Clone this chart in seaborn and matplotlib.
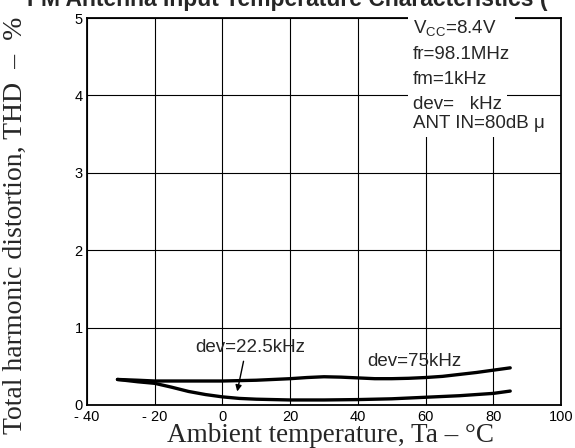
import matplotlib
matplotlib.use("Agg")
import matplotlib.pyplot as plt
import seaborn as sns
import pandas as pd

# ---- data ----
temp_75 = [-31, -25, -20, -10, 0, 10, 20, 25, 30, 35, 40, 45, 50, 55, 60, 65, 70, 75, 80, 85]
thd_75 = [0.33, 0.32, 0.31, 0.31, 0.31, 0.32, 0.34, 0.355, 0.365, 0.36, 0.35, 0.34, 0.34,
          0.345, 0.355, 0.37, 0.395, 0.42, 0.45, 0.48]
temp_225 = [-31, -25, -20, -15, -10, -5, 0, 5, 10, 20, 30, 40, 50, 60, 70, 80, 85]
thd_225 = [0.33, 0.30, 0.28, 0.23, 0.175, 0.135, 0.105, 0.085, 0.075, 0.065, 0.065, 0.07,
           0.08, 0.10, 0.12, 0.15, 0.18]
x_ticks = [-40, -20, 0, 20, 40, 60, 80, 100]
x_tick_labels = ["- 40", "- 20", "0", "20", "40", "60", "80", "100"]
y_ticks = [0, 1, 2, 3, 4, 5]
cond_head = "V$_{\\mathrm{CC}}$=8.4V\nfr=98.1MHz\nfm=1kHz"
cond_dev = "dev=   kHz"
cond_ant = "ANT IN=80dB \u03bc"

sns.set_style("white")
plt.rcParams["font.family"] = ["Liberation Sans", "DejaVu Sans"]
plt.rcParams["mathtext.fontset"] = "custom"
plt.rcParams["mathtext.rm"] = "Liberation Sans"
plt.rcParams["mathtext.it"] = "Liberation Sans"

W, H = 575, 448
fig = plt.figure(figsize=(W / 100, H / 100), dpi=100)
ax = fig.add_axes([87 / W, 1 - 405 / H, 474 / W, 387 / H])

df75 = pd.DataFrame({"t": temp_75, "thd": thd_75})
df225 = pd.DataFrame({"t": temp_225, "thd": thd_225})
sns.lineplot(data=df75, x="t", y="thd", ax=ax, color="black", lw=2.4, zorder=3)
sns.lineplot(data=df225, x="t", y="thd", ax=ax, color="black", lw=2.4, zorder=3)

ax.set_xlim(-40, 100)
ax.set_ylim(0, 5)
ax.set_xticks(x_ticks)
ax.set_xticklabels(x_tick_labels)
ax.set_yticks(y_ticks)
ax.tick_params(axis="both", length=0, labelsize=10.5, colors="black")
ax.tick_params(axis="x", pad=3.5)
ax.tick_params(axis="y", pad=3)
for lbl in ax.get_yticklabels():
    lbl.set_va("center_baseline")
ax.grid(True, color="black", lw=0.8)
ax.set_axisbelow(True)
for s in ax.spines.values():
    s.set_visible(True)
    s.set_color("black")
    s.set_linewidth(1.3)

serif = ["Liberation Serif", "DejaVu Serif"]
ax.set_xlabel("Ambient temperature, Ta \u2013 \u00b0C", family=serif, fontsize=19.5, va="center")
ax.xaxis.set_label_coords(0.513, -0.08)
ax.set_ylabel("Total harmonic distortion, THD  \u2013  %", family=serif, fontsize=20,
              va="center", ha="center")
ax.yaxis.set_label_coords(-0.152, 0.465)

# condition block
box = dict(facecolor="white", edgecolor="none", pad=3.5)
ax.text(56.3, 5.0, cond_head, fontsize=13.5, va="top", ha="left", zorder=5,
        linespacing=1.6, bbox=box)
ax.text(56.3, 3.824, cond_dev, fontsize=13.5, va="baseline", ha="left", zorder=5, bbox=box)
ax.text(56.3, 3.579, cond_ant, fontsize=13.5, va="baseline", ha="left", zorder=5,
        bbox=box, clip_on=False)

# curve labels
ax.text(-8.1, 0.74, "dev=22.5kHz", fontsize=13.5, va="center", ha="left", zorder=5)
ax.text(42.7, 0.56, "dev=75kHz", fontsize=13.5, va="center", ha="left", zorder=5)
ax.annotate("", xy=(4.2, 0.14), xytext=(6.4, 0.60),
            arrowprops=dict(arrowstyle="-|>", color="black", lw=1.0, mutation_scale=9))

fig.text(27 / W, 1 - 6 / H, "FM Antenna Input Temperature Characteristics (",
         fontsize=16.5, weight="bold", ha="left", va="baseline")

fig.savefig("out.png", dpi=100)
